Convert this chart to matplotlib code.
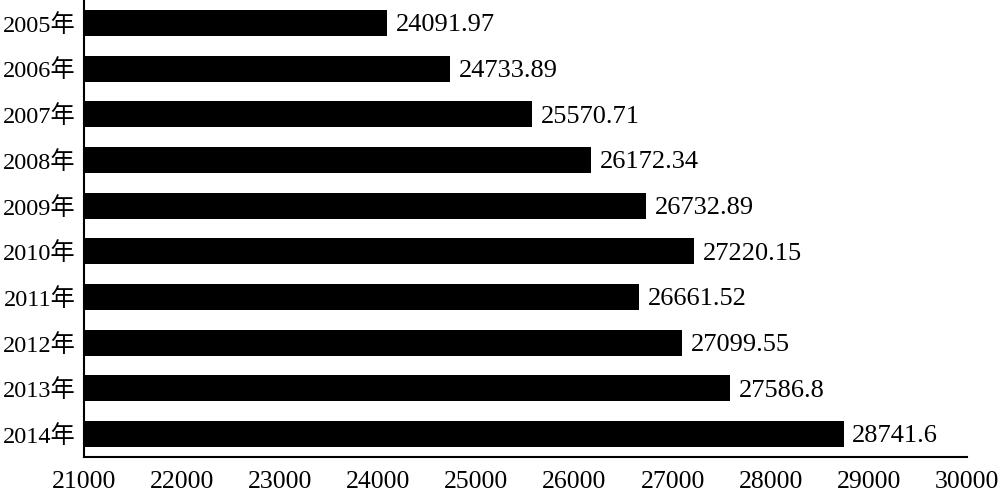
import matplotlib
matplotlib.use('Agg')
import matplotlib.pyplot as plt

years = ['2005年', '2006年', '2007年', '2008年', '2009年',
         '2010年', '2011年', '2012年', '2013年', '2014年']
values = [24091.97, 24733.89, 25570.71, 26172.34, 26732.89,
          27220.15, 26661.52, 27099.55, 27586.8, 28741.6]
value_labels = ['24091.97', '24733.89', '25570.71', '26172.34', '26732.89',
                '27220.15', '26661.52', '27099.55', '27586.8', '28741.6']
xticks = [21000, 22000, 23000, 24000, 25000, 26000, 27000, 28000, 29000, 30000]

plt.rcParams['font.family'] = ['Liberation Serif', 'Noto Sans CJK SC']
plt.rcParams['font.size'] = 19

fig = plt.figure(figsize=(10, 4.96), dpi=100)
ax = fig.add_axes([0.084, 0.079, 0.883, 0.921])

base = xticks[0]
ypos = list(range(len(years)))
ax.barh(ypos, [v - base for v in values], left=base, height=0.57, color='black')
for y, v, lab in zip(ypos, values, value_labels):
    ax.text(v + 90, y, lab, va='center_baseline', ha='left', fontsize=19)

ax.set_xlim(21000, 30000)
ax.set_ylim(len(years) - 0.5, -0.5)
ax.set_yticks(ypos)
ax.set_yticklabels(years, fontsize=17.5)
ax.set_xticks(xticks)
ax.set_xticklabels([str(t) for t in xticks], fontsize=18.5)
ax.tick_params(axis='both', length=0)
ax.tick_params(axis='x', pad=10)
ax.tick_params(axis='y', pad=6)
for lab in ax.get_yticklabels():
    lab.set_verticalalignment('center_baseline')
for s in ['top', 'right']:
    ax.spines[s].set_visible(False)
ax.spines['left'].set_linewidth(1.5)
ax.spines['bottom'].set_linewidth(1.5)

fig.savefig('out.png', dpi=100)
